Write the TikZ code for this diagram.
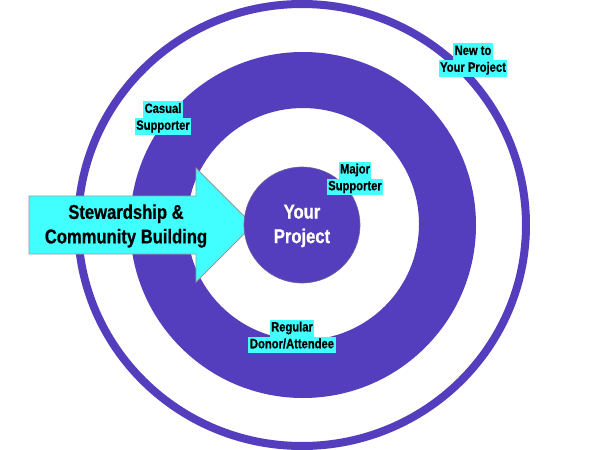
\documentclass[tikz,border=0pt]{standalone}
\usepackage{fontspec}
\setmainfont{Liberation Sans}[FakeStretch=0.83, BoldFeatures={FakeBold=0.6}]
\definecolor{ringpurple}{RGB}{85,62,190}
\definecolor{hlcyan}{RGB}{66,255,255}
\newcommand\hlline[1]{{\setlength{\fboxsep}{0pt}\colorbox{hlcyan}{\strut\hspace{1.5pt}#1\hspace{1.5pt}}}}
\tikzset{
  lbl/.style={align=center, inner sep=0pt, font=\bfseries\fontsize{13.5}{16.8}\selectfont, text=black},
  bigtxt/.style={align=center, inner sep=0pt, font=\bfseries\fontsize{20}{24.5}\selectfont}
}
\begin{document}
\begin{tikzpicture}[x=1pt,y=-1pt]
\useasboundingbox (0,0) rectangle (600,450);
\fill[white] (0,0) rectangle (600,450);
% outer ring
\draw[ringpurple, line width=8pt] (302,225) ellipse [x radius=224, y radius=221];
% thick ring
\fill[ringpurple, even odd rule] (303,225) circle [radius=173] (303,224) circle [radius=116];
% arrow
\filldraw[fill=hlcyan, draw=gray!80, line width=0.8pt, line join=miter]
  (29,196) -- (196,196) -- (196,168) -- (253,225) -- (196,282) -- (196,254) -- (29,254) -- cycle;
% centre circle
\filldraw[fill=ringpurple, draw=gray!60!ringpurple, line width=0.6pt] (302,225) circle [radius=58];
\node[bigtxt, text=white] (proj) at (302,226) {Your\\Project};
\node[bigtxt, text=black] (stew) at (126,226) {Stewardship \&\\Community Building};
% labels
\node[lbl] (new) at (473,60) {\hlline{New to}\\\hlline{Your Project}};
\node[lbl] (casual) at (163,118) {\hlline{Casual}\\\hlline{Supporter}};
\node[lbl] (major) at (355,178.5) {\hlline{Major}\\\hlline{Supporter}};
\node[lbl] (regular) at (292,336.5) {\hlline{Regular}\\\hlline{Donor/Attendee}};
\end{tikzpicture}
\end{document}
